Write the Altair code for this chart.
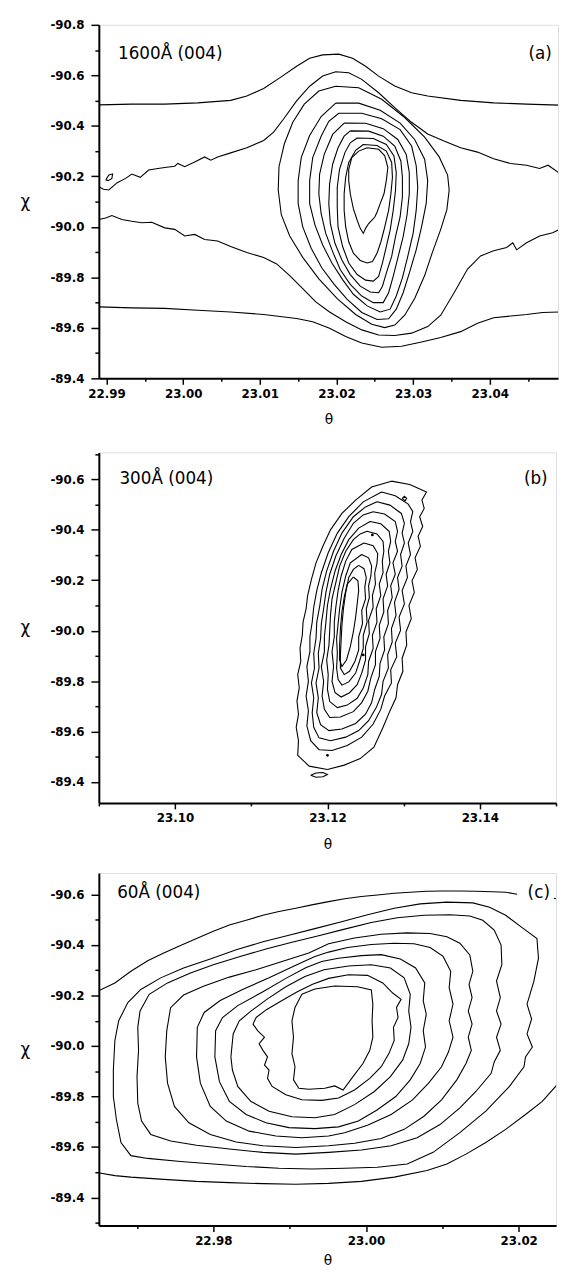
import altair as alt
import pandas as pd

# ---------------- panel (a): 1600 Å (004) ----------------
a_top_theta = [22.9890, 22.9933, 22.9976, 23.0019, 23.0062, 23.0083, 23.0105, 23.0126, 23.0148, 23.0165, 23.0182, 23.0203, 23.0221, 23.0238, 23.0255, 23.0276, 23.0298, 23.0319, 23.0362, 23.0405, 23.0448, 23.0491]
a_top_chi = [-90.483, -90.486, -90.486, -90.491, -90.501, -90.518, -90.548, -90.590, -90.636, -90.668, -90.681, -90.684, -90.668, -90.636, -90.597, -90.558, -90.531, -90.518, -90.501, -90.491, -90.486, -90.482]

a_band_theta = [22.9890, 22.9896, 22.9903, 22.9914, 22.9925, 22.9933, 22.9944, 22.9955, 22.9965, 22.9976, 22.9989, 22.9993, 23.0002, 23.0015, 23.0028, 23.0036, 23.0045, 23.0062, 23.0083, 23.0105, 23.0118, 23.0131, 23.0148, 23.0165, 23.0182, 23.0199, 23.0216, 23.0233, 23.0255, 23.0276, 23.0298, 23.0319, 23.0341, 23.0362, 23.0384, 23.0405, 23.0427, 23.0448, 23.0465, 23.0476, 23.0491]
a_band_chi = [-90.159, -90.149, -90.146, -90.175, -90.192, -90.209, -90.196, -90.225, -90.230, -90.235, -90.240, -90.251, -90.238, -90.257, -90.277, -90.264, -90.277, -90.293, -90.313, -90.342, -90.375, -90.427, -90.499, -90.557, -90.597, -90.614, -90.610, -90.584, -90.531, -90.472, -90.414, -90.368, -90.339, -90.313, -90.296, -90.270, -90.251, -90.244, -90.231, -90.244, -90.212]

a_loop_theta = [22.9899, 22.9903, 22.9908, 22.9907, 22.9902, 22.9899]
a_loop_chi = [-90.186, -90.205, -90.209, -90.192, -90.183, -90.186]

a_low2_theta = [22.9890, 22.9899, 22.9907, 22.9920, 22.9933, 22.9946, 22.9959, 22.9976, 22.9989, 23.0002, 23.0015, 23.0028, 23.0045, 23.0062, 23.0083, 23.0105, 23.0122, 23.0139, 23.0156, 23.0173, 23.0191, 23.0212, 23.0233, 23.0255, 23.0276, 23.0298, 23.0319, 23.0336, 23.0354, 23.0371, 23.0388, 23.0405, 23.0422, 23.0430, 23.0435, 23.0448, 23.0465, 23.0482, 23.0491]
a_low2_chi = [-90.029, -90.035, -90.045, -90.029, -90.022, -90.016, -90.018, -89.996, -89.990, -89.964, -89.970, -89.950, -89.944, -89.922, -89.898, -89.879, -89.853, -89.807, -89.755, -89.703, -89.663, -89.624, -89.592, -89.572, -89.570, -89.579, -89.605, -89.650, -89.742, -89.833, -89.885, -89.905, -89.918, -89.937, -89.909, -89.937, -89.964, -89.977, -89.990]

a_low1_theta = [22.9890, 22.9933, 22.9976, 23.0019, 23.0062, 23.0105, 23.0148, 23.0169, 23.0191, 23.0212, 23.0233, 23.0259, 23.0285, 23.0311, 23.0336, 23.0362, 23.0384, 23.0405, 23.0431, 23.0448, 23.0469, 23.0491]
a_low1_chi = [-89.683, -89.679, -89.677, -89.670, -89.663, -89.653, -89.637, -89.624, -89.598, -89.566, -89.540, -89.523, -89.527, -89.544, -89.562, -89.585, -89.618, -89.640, -89.648, -89.653, -89.661, -89.663]

a_c1_theta = [23.0199, 23.0229, 23.0259, 23.0289, 23.0315, 23.0334, 23.0345, 23.0347, 23.0344, 23.0336, 23.0325, 23.0315, 23.0302, 23.0289, 23.0276, 23.0263, 23.0246, 23.0225, 23.0201, 23.0177, 23.0156, 23.0139, 23.0128, 23.0124, 23.0125, 23.0132, 23.0143, 23.0158, 23.0177, 23.0199]
a_c1_chi = [-90.557, -90.551, -90.505, -90.433, -90.355, -90.277, -90.205, -90.146, -90.068, -89.990, -89.898, -89.807, -89.716, -89.650, -89.611, -89.601, -89.614, -89.653, -89.716, -89.794, -89.879, -89.964, -90.048, -90.146, -90.238, -90.329, -90.414, -90.486, -90.538, -90.557]

a_c2_theta = [23.0199, 23.0229, 23.0257, 23.0283, 23.0302, 23.0315, 23.0319, 23.0317, 23.0311, 23.0304, 23.0295, 23.0287, 23.0278, 23.0268, 23.0253, 23.0233, 23.0214, 23.0197, 23.0181, 23.0167, 23.0156, 23.0150, 23.0150, 23.0154, 23.0165, 23.0180, 23.0199]
a_c2_chi = [-90.490, -90.490, -90.462, -90.411, -90.346, -90.268, -90.183, -90.092, -90.000, -89.909, -89.817, -89.739, -89.674, -89.636, -89.633, -89.661, -89.713, -89.772, -89.837, -89.915, -90.000, -90.092, -90.183, -90.274, -90.362, -90.437, -90.490]

a_c3_theta = [23.0203, 23.0233, 23.0259, 23.0283, 23.0298, 23.0304, 23.0306, 23.0304, 23.0300, 23.0293, 23.0286, 23.0278, 23.0270, 23.0257, 23.0240, 23.0222, 23.0208, 23.0194, 23.0182, 23.0172, 23.0165, 23.0165, 23.0169, 23.0180, 23.0190, 23.0203]
a_c3_chi = [-90.450, -90.450, -90.428, -90.385, -90.320, -90.242, -90.157, -90.065, -89.974, -89.883, -89.798, -89.726, -89.674, -89.663, -89.687, -89.733, -89.791, -89.857, -89.928, -90.007, -90.092, -90.183, -90.274, -90.359, -90.418, -90.450]

a_c4_theta = [23.0210, 23.0238, 23.0261, 23.0280, 23.0291, 23.0295, 23.0295, 23.0292, 23.0287, 23.0280, 23.0274, 23.0268, 23.0261, 23.0248, 23.0233, 23.0218, 23.0205, 23.0195, 23.0186, 23.0180, 23.0177, 23.0178, 23.0184, 23.0195, 23.0210]
a_c4_chi = [-90.411, -90.410, -90.389, -90.346, -90.287, -90.215, -90.131, -90.046, -89.961, -89.876, -89.804, -89.739, -89.700, -89.700, -89.726, -89.772, -89.830, -89.902, -89.974, -90.052, -90.131, -90.209, -90.287, -90.366, -90.411]

a_c5_theta = [23.0218, 23.0242, 23.0261, 23.0276, 23.0284, 23.0286, 23.0286, 23.0283, 23.0277, 23.0272, 23.0265, 23.0260, 23.0255, 23.0244, 23.0231, 23.0218, 23.0207, 23.0198, 23.0192, 23.0190, 23.0191, 23.0195, 23.0202, 23.0210, 23.0218]
a_c5_chi = [-90.380, -90.379, -90.359, -90.320, -90.261, -90.196, -90.118, -90.039, -89.961, -89.883, -89.817, -89.765, -89.739, -89.742, -89.765, -89.811, -89.869, -89.935, -90.013, -90.092, -90.170, -90.248, -90.313, -90.359, -90.380]

a_c6_theta = [23.0227, 23.0248, 23.0265, 23.0275, 23.0278, 23.0277, 23.0274, 23.0270, 23.0265, 23.0260, 23.0255, 23.0248, 23.0238, 23.0227, 23.0216, 23.0208, 23.0202, 23.0201, 23.0201, 23.0204, 23.0211, 23.0218, 23.0227]
a_c6_chi = [-90.352, -90.350, -90.326, -90.281, -90.215, -90.144, -90.065, -89.987, -89.922, -89.857, -89.804, -89.785, -89.789, -89.811, -89.857, -89.922, -90.000, -90.078, -90.157, -90.228, -90.294, -90.333, -90.352]

a_c7_theta = [23.0235, 23.0253, 23.0265, 23.0272, 23.0273, 23.0271, 23.0268, 23.0263, 23.0258, 23.0253, 23.0247, 23.0240, 23.0231, 23.0222, 23.0216, 23.0212, 23.0210, 23.0210, 23.0212, 23.0216, 23.0225, 23.0235]
a_c7_chi = [-90.326, -90.322, -90.300, -90.255, -90.196, -90.131, -90.065, -90.000, -89.941, -89.896, -89.863, -89.857, -89.867, -89.896, -89.941, -90.000, -90.065, -90.131, -90.196, -90.255, -90.303, -90.326]

a_c8_theta = [23.0240, 23.0255, 23.0263, 23.0267, 23.0265, 23.0262, 23.0257, 23.0253, 23.0250, 23.0246, 23.0242, 23.0238, 23.0235, 23.0231, 23.0227, 23.0222, 23.0218, 23.0216, 23.0216, 23.0220, 23.0229, 23.0240]
a_c8_chi = [-90.313, -90.307, -90.281, -90.235, -90.183, -90.131, -90.092, -90.059, -90.039, -90.026, -90.013, -89.994, -89.974, -89.994, -90.026, -90.072, -90.131, -90.183, -90.228, -90.274, -90.300, -90.313]

# ---------------- panel (b): 300 Å (004) ----------------
b_l1_theta = [23.1284, 23.1308, 23.1330, 23.1324, 23.1327, 23.1321, 23.1325, 23.1319, 23.1322, 23.1315, 23.1318, 23.1311, 23.1314, 23.1307, 23.1310, 23.1303, 23.1304, 23.1298, 23.1299, 23.1292, 23.1290, 23.1282, 23.1273, 23.1261, 23.1243, 23.1222, 23.1200, 23.1176, 23.1161, 23.1162, 23.1159, 23.1162, 23.1160, 23.1163, 23.1161, 23.1165, 23.1164, 23.1167, 23.1168, 23.1172, 23.1174, 23.1179, 23.1185, 23.1194, 23.1204, 23.1219, 23.1237, 23.1258, 23.1284]
b_l1_chi = [-90.593, -90.580, -90.550, -90.518, -90.485, -90.452, -90.413, -90.374, -90.335, -90.289, -90.243, -90.198, -90.152, -90.100, -90.048, -89.995, -89.943, -89.891, -89.839, -89.786, -89.734, -89.682, -89.617, -89.538, -89.493, -89.467, -89.450, -89.463, -89.506, -89.564, -89.617, -89.669, -89.721, -89.773, -89.826, -89.878, -89.930, -89.982, -90.034, -90.087, -90.139, -90.204, -90.269, -90.335, -90.400, -90.465, -90.518, -90.570, -90.593]

b_l2_theta = [23.1271, 23.1289, 23.1306, 23.1312, 23.1309, 23.1312, 23.1306, 23.1309, 23.1303, 23.1305, 23.1298, 23.1301, 23.1294, 23.1296, 23.1289, 23.1291, 23.1283, 23.1284, 23.1275, 23.1270, 23.1260, 23.1245, 23.1226, 23.1206, 23.1189, 23.1178, 23.1173, 23.1175, 23.1172, 23.1175, 23.1173, 23.1177, 23.1177, 23.1180, 23.1182, 23.1186, 23.1192, 23.1201, 23.1213, 23.1228, 23.1247, 23.1271]
b_l2_chi = [-90.550, -90.535, -90.502, -90.472, -90.433, -90.394, -90.348, -90.302, -90.256, -90.211, -90.159, -90.106, -90.054, -90.002, -89.950, -89.897, -89.845, -89.793, -89.741, -89.688, -89.630, -89.578, -89.545, -89.525, -89.528, -89.564, -89.623, -89.682, -89.741, -89.799, -89.858, -89.917, -89.976, -90.034, -90.093, -90.159, -90.230, -90.309, -90.387, -90.452, -90.511, -90.550]

b_l3_theta = [23.1265, 23.1282, 23.1297, 23.1301, 23.1298, 23.1301, 23.1296, 23.1298, 23.1292, 23.1294, 23.1288, 23.1290, 23.1284, 23.1285, 23.1279, 23.1280, 23.1273, 23.1271, 23.1264, 23.1254, 23.1241, 23.1224, 23.1204, 23.1189, 23.1182, 23.1180, 23.1182, 23.1179, 23.1183, 23.1182, 23.1185, 23.1186, 23.1190, 23.1193, 23.1199, 23.1208, 23.1219, 23.1234, 23.1250, 23.1265]
b_l3_chi = [-90.511, -90.498, -90.465, -90.426, -90.387, -90.348, -90.302, -90.256, -90.211, -90.165, -90.113, -90.061, -90.008, -89.956, -89.904, -89.852, -89.799, -89.747, -89.695, -89.643, -89.604, -89.578, -89.564, -89.575, -89.617, -89.675, -89.734, -89.793, -89.852, -89.910, -89.969, -90.034, -90.100, -90.165, -90.237, -90.315, -90.387, -90.452, -90.491, -90.511]

b_l4_theta = [23.1260, 23.1275, 23.1289, 23.1292, 23.1289, 23.1292, 23.1286, 23.1289, 23.1283, 23.1285, 23.1279, 23.1280, 23.1274, 23.1275, 23.1269, 23.1268, 23.1262, 23.1258, 23.1250, 23.1237, 23.1219, 23.1202, 23.1191, 23.1186, 23.1188, 23.1185, 23.1189, 23.1188, 23.1191, 23.1192, 23.1195, 23.1198, 23.1203, 23.1211, 23.1222, 23.1234, 23.1247, 23.1260]
b_l4_chi = [-90.472, -90.463, -90.433, -90.394, -90.354, -90.315, -90.269, -90.224, -90.178, -90.132, -90.080, -90.028, -89.976, -89.924, -89.871, -89.819, -89.767, -89.715, -89.669, -89.632, -89.610, -89.604, -89.627, -89.675, -89.734, -89.793, -89.852, -89.910, -89.969, -90.028, -90.087, -90.152, -90.224, -90.296, -90.367, -90.426, -90.459, -90.472]

b_l5_theta = [23.1256, 23.1270, 23.1281, 23.1283, 23.1280, 23.1282, 23.1277, 23.1279, 23.1273, 23.1274, 23.1268, 23.1269, 23.1263, 23.1263, 23.1257, 23.1253, 23.1245, 23.1234, 23.1217, 23.1203, 23.1196, 23.1193, 23.1195, 23.1192, 23.1196, 23.1196, 23.1198, 23.1200, 23.1204, 23.1210, 23.1218, 23.1228, 23.1241, 23.1256]
b_l5_chi = [-90.433, -90.424, -90.394, -90.354, -90.315, -90.269, -90.224, -90.178, -90.126, -90.074, -90.021, -89.969, -89.917, -89.865, -89.813, -89.760, -89.715, -89.679, -89.658, -89.656, -89.688, -89.741, -89.799, -89.858, -89.917, -89.976, -90.034, -90.100, -90.165, -90.237, -90.302, -90.361, -90.407, -90.433]

b_l6_theta = [23.1252, 23.1265, 23.1273, 23.1274, 23.1272, 23.1273, 23.1268, 23.1270, 23.1264, 23.1265, 23.1259, 23.1260, 23.1254, 23.1253, 23.1247, 23.1239, 23.1226, 23.1213, 23.1203, 23.1200, 23.1201, 23.1199, 23.1202, 23.1203, 23.1204, 23.1206, 23.1211, 23.1216, 23.1224, 23.1234, 23.1243, 23.1252]
b_l6_chi = [-90.394, -90.384, -90.354, -90.315, -90.276, -90.230, -90.185, -90.139, -90.087, -90.034, -89.982, -89.930, -89.878, -89.826, -89.773, -89.732, -89.705, -89.695, -89.719, -89.767, -89.826, -89.884, -89.943, -90.002, -90.061, -90.126, -90.191, -90.256, -90.315, -90.361, -90.384, -90.394]

b_l7_theta = [23.1248, 23.1260, 23.1266, 23.1265, 23.1262, 23.1263, 23.1259, 23.1260, 23.1254, 23.1255, 23.1250, 23.1250, 23.1245, 23.1239, 23.1229, 23.1218, 23.1210, 23.1206, 23.1208, 23.1206, 23.1209, 23.1209, 23.1211, 23.1214, 23.1218, 23.1224, 23.1232, 23.1248]
b_l7_chi = [-90.348, -90.337, -90.306, -90.267, -90.228, -90.185, -90.139, -90.093, -90.041, -89.989, -89.937, -89.884, -89.832, -89.786, -89.754, -89.737, -89.754, -89.799, -89.858, -89.917, -89.976, -90.034, -90.093, -90.159, -90.217, -90.276, -90.322, -90.348]

b_l8_theta = [23.1245, 23.1254, 23.1258, 23.1257, 23.1254, 23.1255, 23.1251, 23.1252, 23.1247, 23.1247, 23.1242, 23.1237, 23.1228, 23.1219, 23.1214, 23.1212, 23.1213, 23.1212, 23.1214, 23.1216, 23.1219, 23.1224, 23.1230, 23.1245]
b_l8_chi = [-90.302, -90.289, -90.256, -90.217, -90.178, -90.132, -90.087, -90.034, -89.982, -89.930, -89.878, -89.832, -89.797, -89.784, -89.806, -89.852, -89.910, -89.969, -90.028, -90.087, -90.152, -90.217, -90.269, -90.302]

b_l9_theta = [23.1241, 23.1248, 23.1251, 23.1249, 23.1250, 23.1245, 23.1246, 23.1241, 23.1241, 23.1236, 23.1229, 23.1222, 23.1217, 23.1217, 23.1218, 23.1219, 23.1221, 23.1224, 23.1228, 23.1234, 23.1241]
b_l9_chi = [-90.259, -90.246, -90.211, -90.172, -90.126, -90.080, -90.028, -89.976, -89.924, -89.878, -89.839, -89.826, -89.852, -89.904, -89.963, -90.021, -90.087, -90.152, -90.211, -90.243, -90.259]

b_l10_theta = [23.1234, 23.1240, 23.1241, 23.1239, 23.1237, 23.1234, 23.1230, 23.1225, 23.1219, 23.1216, 23.1216, 23.1217, 23.1219, 23.1222, 23.1226, 23.1234]
b_l10_chi = [-90.213, -90.198, -90.159, -90.106, -90.054, -89.995, -89.937, -89.884, -89.858, -89.884, -89.943, -90.008, -90.074, -90.132, -90.185, -90.213]

b_diamond_theta = [23.1298, 23.1301, 23.1304, 23.1302, 23.1298]
b_diamond_chi = [-90.524, -90.533, -90.525, -90.515, -90.524]
b_foot_theta = [23.1178, 23.1185, 23.1194, 23.1200, 23.1194, 23.1185, 23.1178]
b_foot_chi = [-89.427, -89.436, -89.438, -89.430, -89.421, -89.419, -89.427]
b_dot_theta = [23.1259, 23.1200, 23.1247]
b_dot_chi = [-90.380, -89.506, -89.904]

# ---------------- panel (c): 60 Å (004) ----------------
c_top_theta = [22.9649, 22.9671, 22.9692, 22.9714, 22.9735, 22.9757, 22.9778, 22.9800, 22.9821, 22.9843, 22.9865, 22.9886, 22.9908, 22.9929, 22.9951, 22.9972, 22.9994, 23.0015, 23.0037, 23.0058, 23.0080, 23.0101, 23.0123, 23.0144, 23.0166, 23.0183, 23.0198]
c_top_chi = [-90.218, -90.250, -90.296, -90.338, -90.368, -90.398, -90.426, -90.455, -90.479, -90.498, -90.518, -90.533, -90.546, -90.559, -90.572, -90.583, -90.592, -90.598, -90.605, -90.609, -90.613, -90.614, -90.614, -90.613, -90.611, -90.609, -90.601]
c_tail_theta = [23.0246, 23.0254]
c_tail_chi = [-90.585, -90.580]

c_bot_theta = [22.9649, 22.9671, 22.9692, 22.9735, 22.9778, 22.9821, 22.9865, 22.9908, 22.9951, 22.9994, 23.0037, 23.0080, 23.0106, 23.0131, 23.0157, 23.0183, 23.0209, 23.0231, 23.0254]
c_bot_chi = [-89.498, -89.487, -89.481, -89.472, -89.464, -89.459, -89.455, -89.453, -89.456, -89.464, -89.481, -89.507, -89.533, -89.572, -89.618, -89.670, -89.729, -89.781, -89.859]

c_q1_theta = [22.9669, 22.9671, 22.9676, 22.9688, 22.9705, 22.9731, 22.9761, 22.9796, 22.9830, 22.9865, 22.9899, 22.9933, 22.9968, 23.0002, 23.0037, 23.0071, 23.0106, 23.0140, 23.0162, 23.0183, 23.0205, 23.0224, 23.0226, 23.0220, 23.0211, 23.0217, 23.0211, 23.0218, 23.0209, 23.0207, 23.0188, 23.0157, 23.0123, 23.0088, 23.0054, 23.0015, 22.9972, 22.9929, 22.9886, 22.9843, 22.9800, 22.9757, 22.9714, 22.9692, 22.9679, 22.9673, 22.9669, 22.9669]
c_q1_chi = [-89.905, -90.022, -90.100, -90.172, -90.224, -90.270, -90.309, -90.345, -90.381, -90.413, -90.439, -90.465, -90.492, -90.520, -90.546, -90.563, -90.570, -90.567, -90.550, -90.518, -90.468, -90.426, -90.348, -90.257, -90.166, -90.107, -90.048, -89.996, -89.957, -89.918, -89.840, -89.742, -89.657, -89.579, -89.533, -89.520, -89.516, -89.513, -89.516, -89.523, -89.533, -89.543, -89.555, -89.566, -89.618, -89.709, -89.800, -89.905]

c_q2_theta = [22.9701, 22.9704, 22.9716, 22.9740, 22.9770, 22.9800, 22.9834, 22.9869, 22.9903, 22.9938, 22.9972, 23.0007, 23.0041, 23.0076, 23.0110, 23.0136, 23.0153, 23.0168, 23.0177, 23.0178, 23.0171, 23.0176, 23.0171, 23.0177, 23.0171, 23.0176, 23.0168, 23.0164, 23.0144, 23.0123, 23.0097, 23.0067, 23.0033, 22.9994, 22.9951, 22.9908, 22.9865, 22.9821, 22.9778, 22.9744, 22.9718, 22.9706, 22.9701, 22.9700, 22.9702, 22.9701]
c_q2_chi = [-90.074, -90.139, -90.205, -90.250, -90.289, -90.322, -90.354, -90.384, -90.411, -90.437, -90.463, -90.489, -90.508, -90.518, -90.520, -90.515, -90.498, -90.459, -90.400, -90.322, -90.257, -90.192, -90.139, -90.087, -90.035, -89.983, -89.937, -89.892, -89.820, -89.755, -89.689, -89.637, -89.605, -89.588, -89.579, -89.572, -89.579, -89.592, -89.607, -89.624, -89.650, -89.703, -89.774, -89.879, -89.983, -90.074]

c_q3_theta = [22.9739, 22.9744, 22.9761, 22.9787, 22.9821, 22.9856, 22.9890, 22.9925, 22.9951, 22.9985, 23.0020, 23.0054, 23.0084, 23.0106, 23.0123, 23.0136, 23.0140, 23.0135, 23.0139, 23.0134, 23.0139, 23.0134, 23.0138, 23.0131, 23.0119, 23.0099, 23.0076, 23.0050, 23.0020, 22.9985, 22.9951, 22.9908, 22.9865, 22.9830, 22.9796, 22.9768, 22.9749, 22.9740, 22.9737, 22.9739]
c_q3_chi = [-90.061, -90.152, -90.202, -90.237, -90.273, -90.302, -90.335, -90.368, -90.405, -90.428, -90.443, -90.448, -90.446, -90.433, -90.407, -90.361, -90.296, -90.244, -90.192, -90.139, -90.087, -90.035, -89.983, -89.931, -89.866, -89.787, -89.722, -89.670, -89.634, -89.615, -89.605, -89.598, -89.605, -89.620, -89.650, -89.696, -89.761, -89.853, -89.957, -90.061]

c_q4_theta = [22.9778, 22.9779, 22.9788, 22.9809, 22.9839, 22.9873, 22.9908, 22.9933, 22.9951, 22.9976, 23.0007, 23.0037, 23.0063, 23.0084, 23.0101, 23.0111, 23.0109, 23.0114, 23.0109, 23.0114, 23.0108, 23.0099, 23.0082, 23.0061, 23.0033, 23.0002, 22.9972, 22.9951, 22.9916, 22.9882, 22.9847, 22.9817, 22.9796, 22.9783, 22.9778]
c_q4_chi = [-89.957, -90.074, -90.133, -90.180, -90.225, -90.270, -90.320, -90.355, -90.372, -90.390, -90.402, -90.407, -90.405, -90.390, -90.355, -90.296, -90.231, -90.166, -90.100, -90.035, -89.976, -89.918, -89.853, -89.787, -89.729, -89.686, -89.657, -89.644, -89.637, -89.644, -89.663, -89.703, -89.761, -89.853, -89.957]

c_q5_theta = [22.9802, 22.9803, 22.9812, 22.9832, 22.9865, 22.9895, 22.9921, 22.9942, 22.9964, 22.9994, 23.0020, 23.0045, 23.0065, 23.0077, 23.0075, 23.0079, 23.0075, 23.0078, 23.0071, 23.0058, 23.0039, 23.0015, 22.9990, 22.9964, 22.9933, 22.9899, 22.9869, 22.9843, 22.9821, 22.9808, 22.9802]
c_q5_chi = [-89.957, -90.061, -90.113, -90.160, -90.215, -90.268, -90.310, -90.335, -90.348, -90.358, -90.362, -90.345, -90.309, -90.250, -90.179, -90.126, -90.061, -89.996, -89.931, -89.866, -89.800, -89.748, -89.703, -89.680, -89.673, -89.677, -89.696, -89.729, -89.781, -89.859, -89.957]

c_q6_theta = [22.9823, 22.9826, 22.9834, 22.9850, 22.9870, 22.9895, 22.9920, 22.9945, 22.9977, 23.0007, 23.0032, 23.0050, 23.0058, 23.0056, 23.0059, 23.0056, 23.0048, 23.0032, 23.0011, 22.9985, 22.9959, 22.9933, 22.9903, 22.9873, 22.9849, 22.9832, 22.9825, 22.9823]
c_q6_chi = [-89.957, -90.048, -90.100, -90.140, -90.185, -90.235, -90.275, -90.302, -90.317, -90.322, -90.309, -90.270, -90.205, -90.139, -90.074, -90.009, -89.944, -89.879, -89.820, -89.768, -89.729, -89.716, -89.720, -89.742, -89.781, -89.840, -89.905, -89.957]

c_q7_theta = [22.9856, 22.9870, 22.9890, 22.9910, 22.9930, 22.9951, 22.9977, 23.0002, 23.0022, 23.0035, 23.0046, 23.0040, 23.0042, 23.0036, 23.0037, 23.0030, 23.0020, 23.0005, 22.9985, 22.9964, 22.9942, 22.9916, 22.9895, 22.9877, 22.9871, 22.9873, 22.9867, 22.9871, 22.9865, 22.9860, 22.9867, 22.9858, 22.9852, 22.9856]
c_q7_chi = [-90.113, -90.145, -90.180, -90.215, -90.245, -90.268, -90.282, -90.280, -90.250, -90.210, -90.185, -90.153, -90.113, -90.074, -90.022, -89.970, -89.918, -89.872, -89.826, -89.794, -89.785, -89.787, -89.807, -89.840, -89.872, -89.905, -89.924, -89.957, -89.983, -90.009, -90.035, -90.061, -90.087, -90.113]

c_q8_theta = [22.9916, 22.9933, 22.9959, 22.9989, 23.0007, 23.0009, 23.0008, 23.0009, 23.0005, 22.9996, 22.9983, 22.9970, 22.9959, 22.9946, 22.9925, 22.9912, 22.9905, 22.9907, 22.9903, 22.9905, 22.9903, 22.9907, 22.9916]
c_q8_chi = [-90.205, -90.226, -90.238, -90.235, -90.222, -90.166, -90.100, -90.035, -89.983, -89.931, -89.879, -89.826, -89.842, -89.833, -89.829, -89.833, -89.866, -89.918, -89.970, -90.035, -90.100, -90.153, -90.205]

# ---------------- tick values and labels ----------------
a_xticks = [22.99, 22.995, 23.0, 23.005, 23.01, 23.015, 23.02, 23.025, 23.03, 23.035, 23.04, 23.045]
a_yticks = [-90.8, -90.7, -90.6, -90.5, -90.4, -90.3, -90.2, -90.1, -90.0, -89.9, -89.8, -89.7, -89.6, -89.5, -89.4]
b_xticks = [23.09, 23.10, 23.11, 23.12, 23.13, 23.14, 23.15]
b_yticks = [-90.7, -90.6, -90.5, -90.4, -90.3, -90.2, -90.1, -90.0, -89.9, -89.8, -89.7, -89.6, -89.5, -89.4, -89.3]
c_xticks = [22.97, 22.98, 22.99, 23.00, 23.01, 23.02]
c_yticks = [-90.6, -90.5, -90.4, -90.3, -90.2, -90.1, -90.0, -89.9, -89.8, -89.7, -89.6, -89.5, -89.4, -89.3]

a_labels = ["1600Å (004)", "(a)"]
b_labels = ["300Å (004)", "(b)"]
c_labels = ["60Å (004)", "(c)"]
a_label_theta = [22.9915, 23.0481]
a_label_chi = [-90.685, -90.685]
b_label_theta = [23.0927, 23.1489]
b_label_chi = [-90.602, -90.602]
c_label_theta = [22.9674, 23.0241]
c_label_chi = [-90.605, -90.605]

FONT = "DejaVu Sans"


def contour_frame(pairs):
    rows = []
    for i, (th, ch) in enumerate(pairs):
        for k, (t, c) in enumerate(zip(th, ch)):
            rows.append({"line": i, "k": k, "theta": t, "chi": c})
    return pd.DataFrame(rows)


def major(m):
    return f"abs(datum.value*{m} - round(datum.value*{m})) < 0.01"


def x_axis(vals, m, tpad):
    return alt.Axis(
        values=vals,
        labelExpr=f"{major(m)} ? format(datum.value, '.2f') : ''",
        tickSize={"condition": {"test": major(m), "value": 6}, "value": 3},
        tickWidth=1.5, tickColor="black", domainColor="black", domainWidth=2,
        labelFont=FONT, labelFontWeight="bold", labelFontSize=12, labelColor="black",
        labelPadding=4, labelFlush=False, labelOverlap=False, grid=False,
        title="θ", titleFont=FONT, titleFontWeight="normal", titleFontSize=14,
        titleColor="black", titlePadding=tpad,
    )


def y_axis(vals, h):
    return alt.Axis(
        values=vals,
        labelExpr=f"{major(5)} ? replace(format(datum.value, '.1f'), '\u2212', '-') : ''",
        tickSize={"condition": {"test": major(5), "value": 8}, "value": 4},
        tickWidth=1.5, tickColor="black", domainColor="black", domainWidth=2,
        labelFont=FONT, labelFontWeight="bold", labelFontSize=12, labelColor="black",
        labelPadding=7, labelFlush=False, labelOverlap=False, grid=False,
        title="χ", titleFont=FONT, titleFontWeight="normal", titleFontSize=17,
        titleColor="black", titleAngle=0, titleAlign="center", titleBaseline="middle",
        titleX=-75, titleY=h / 2,
    )


def panel(pairs, lab, lab_th, lab_ch, xdom, ydom, xvals, xm, yvals, w, h, tpad, dots=None):
    df = contour_frame(pairs)
    x = alt.X("theta:Q", scale=alt.Scale(domain=xdom, nice=False, zero=False), axis=x_axis(xvals, xm, tpad))
    y = alt.Y("chi:Q", scale=alt.Scale(domain=ydom, nice=False, zero=False, reverse=True), axis=y_axis(yvals, h))
    lines = alt.Chart(df).mark_line(color="black", strokeWidth=1.1, clip=True).encode(
        x=x, y=y, detail="line:N", order="k:Q")
    tl = pd.DataFrame({"theta": [lab_th[0]], "chi": [lab_ch[0]], "t": [lab[0]]})
    tr = pd.DataFrame({"theta": [lab_th[1]], "chi": [lab_ch[1]], "t": [lab[1]]})
    txt_l = alt.Chart(tl).mark_text(align="left", baseline="middle", font=FONT, fontSize=17, color="black").encode(
        x=x, y=y, text="t:N")
    txt_r = alt.Chart(tr).mark_text(align="right", baseline="middle", font=FONT, fontSize=17, color="black").encode(
        x=x, y=y, text="t:N")
    layers = [lines, txt_l, txt_r]
    if dots is not None:
        ddf = pd.DataFrame({"theta": dots[0], "chi": dots[1]})
        layers.append(alt.Chart(ddf).mark_point(filled=True, size=8, color="black", opacity=1).encode(x=x, y=y))
    return alt.layer(*layers).properties(width=w, height=h)


pa = panel(
    [(a_top_theta, a_top_chi), (a_band_theta, a_band_chi), (a_loop_theta, a_loop_chi),
     (a_low2_theta, a_low2_chi), (a_low1_theta, a_low1_chi),
     (a_c1_theta, a_c1_chi), (a_c2_theta, a_c2_chi), (a_c3_theta, a_c3_chi), (a_c4_theta, a_c4_chi),
     (a_c5_theta, a_c5_chi), (a_c6_theta, a_c6_chi), (a_c7_theta, a_c7_chi), (a_c8_theta, a_c8_chi)],
    a_labels, a_label_theta, a_label_chi,
    [22.989, 23.0489], [-90.8, -89.4], a_xticks, 100, a_yticks, 465, 358, 14)

pb = panel(
    [(b_l1_theta, b_l1_chi), (b_l2_theta, b_l2_chi), (b_l3_theta, b_l3_chi), (b_l4_theta, b_l4_chi),
     (b_l5_theta, b_l5_chi), (b_l6_theta, b_l6_chi), (b_l7_theta, b_l7_chi), (b_l8_theta, b_l8_chi),
     (b_l9_theta, b_l9_chi), (b_l10_theta, b_l10_chi), (b_diamond_theta, b_diamond_chi),
     (b_foot_theta, b_foot_chi)],
    b_labels, b_label_theta, b_label_chi,
    [23.09, 23.15], [-90.707, -89.317], b_xticks, 50, b_yticks, 463, 355, 14,
    dots=(b_dot_theta, b_dot_chi))

pc = panel(
    [(c_top_theta, c_top_chi), (c_tail_theta, c_tail_chi), (c_bot_theta, c_bot_chi),
     (c_q1_theta, c_q1_chi), (c_q2_theta, c_q2_chi), (c_q3_theta, c_q3_chi), (c_q4_theta, c_q4_chi),
     (c_q5_theta, c_q5_chi), (c_q6_theta, c_q6_chi), (c_q7_theta, c_q7_chi), (c_q8_theta, c_q8_chi)],
    c_labels, c_label_theta, c_label_chi,
    [22.965, 23.0249], [-90.685, -89.289], c_xticks, 50, c_yticks, 463, 357, 7)

chart = alt.vconcat(pa, pb, pc, spacing=20).properties(
    padding={"left": 11, "top": 2, "right": 0, "bottom": 0}
).configure_view(stroke="black", strokeWidth=1.5).configure(background="white")

chart.save("out.html", embed_options={"renderer": "svg", "actions": False})
